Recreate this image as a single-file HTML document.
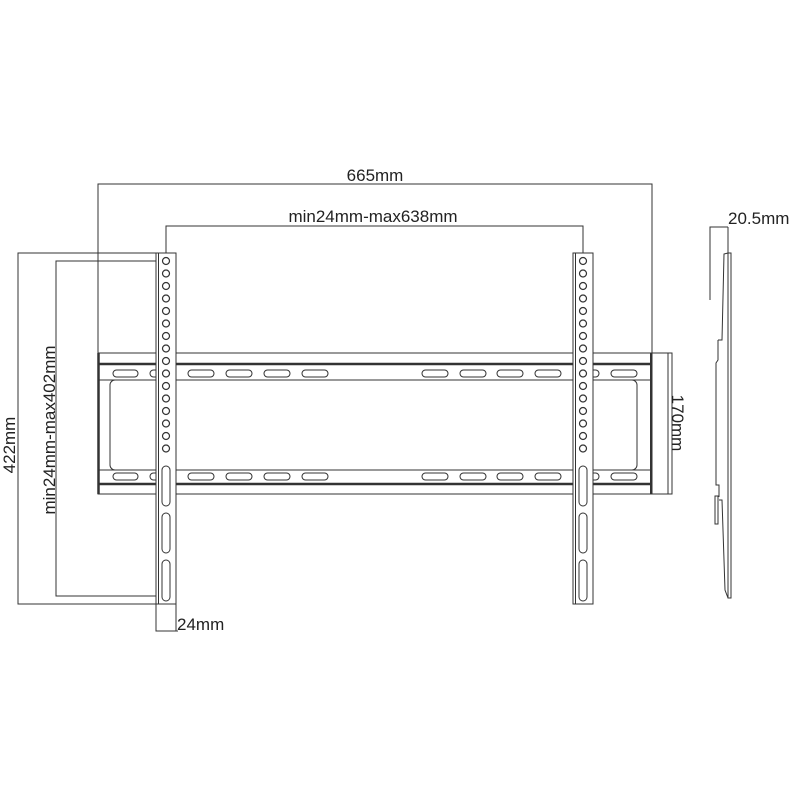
<!DOCTYPE html>
<html><head><style>body{margin:0;background:#fff}svg{display:block}text{font-family:"Liberation Sans",sans-serif;font-size:17px;fill:#222}</style></head><body>
<svg width="800" height="800" viewBox="0 0 800 800" xmlns="http://www.w3.org/2000/svg" fill="none" stroke="#333" stroke-width="1">
<polyline points="98,353 98,184 652,184 652,353"/>
<polyline points="166,257 166,226 583,226 583,257"/>
<polyline points="166,253 18,253 18,604 176,604"/>
<polyline points="166,261 56,261 56,596 166,596"/>
<polyline points="156,604 156,631 178,631"/>
<line x1="176" y1="604" x2="176" y2="631"/>
<polyline points="652,353 672,353 672,494 652,494"/>
<line x1="668" y1="353" x2="668" y2="494"/>
<text x="375" y="181" text-anchor="middle" stroke="none">665mm</text>
<text x="373" y="222" text-anchor="middle" stroke="none">min24mm-max638mm</text>
<text x="177" y="630" stroke="none">24mm</text>
<text transform="translate(15,445) rotate(-90)" text-anchor="middle" stroke="none">422mm</text>
<text transform="translate(55,430) rotate(-90)" text-anchor="middle" stroke="none">min24mm-max402mm</text>
<text transform="translate(672,423) rotate(90)" text-anchor="middle" stroke="none">170mm</text>
<rect x="98" y="353" width="554" height="141"/>
<line x1="98" y1="364" x2="652" y2="364" stroke-width="2.5"/>
<line x1="98" y1="484" x2="652" y2="484" stroke-width="2.5"/>
<line x1="98.5" y1="353" x2="98.5" y2="494" stroke-width="2.5"/>
<line x1="651" y1="353" x2="651" y2="494" stroke-width="2"/>
<line x1="98" y1="380" x2="652" y2="380"/>
<line x1="98" y1="470" x2="652" y2="470"/>
<rect x="110" y="380" width="527" height="90" rx="5" fill="#fff"/>
<g id="slots">
<rect x="113" y="370" width="25" height="7" rx="3.5"/>
<rect x="150" y="370" width="20" height="7" rx="3.5"/>
<rect x="188" y="370" width="26" height="7" rx="3.5"/>
<rect x="226" y="370" width="26" height="7" rx="3.5"/>
<rect x="264" y="370" width="26" height="7" rx="3.5"/>
<rect x="302" y="370" width="26" height="7" rx="3.5"/>
<rect x="422" y="370" width="26" height="7" rx="3.5"/>
<rect x="460" y="370" width="26" height="7" rx="3.5"/>
<rect x="497" y="370" width="26" height="7" rx="3.5"/>
<rect x="535" y="370" width="26" height="7" rx="3.5"/>
<rect x="573" y="370" width="26" height="7" rx="3.5"/>
<rect x="611" y="370" width="26" height="7" rx="3.5"/>
</g>
<use href="#slots" y="103"/>
<g id="rail">
<rect x="156" y="253" width="20" height="351" fill="#fff"/>
<line x1="158.5" y1="253" x2="158.5" y2="604"/>
<g stroke-width="1.2">
<circle cx="166" cy="261" r="3.5"/><circle cx="166" cy="273.5" r="3.5"/><circle cx="166" cy="286" r="3.5"/><circle cx="166" cy="298.5" r="3.5"/>
<circle cx="166" cy="311" r="3.5"/><circle cx="166" cy="323.5" r="3.5"/><circle cx="166" cy="336" r="3.5"/><circle cx="166" cy="348.5" r="3.5"/>
<circle cx="166" cy="361" r="3.5"/><circle cx="166" cy="373.5" r="3.5"/><circle cx="166" cy="386" r="3.5"/><circle cx="166" cy="398.5" r="3.5"/>
<circle cx="166" cy="411" r="3.5"/><circle cx="166" cy="423.5" r="3.5"/><circle cx="166" cy="436" r="3.5"/><circle cx="166" cy="448.5" r="3.5"/>
</g>
<rect x="162" y="466" width="8" height="40" rx="4"/>
<rect x="162" y="513" width="8" height="40" rx="4"/>
<rect x="162" y="560" width="8" height="41" rx="4"/>
</g>
<use href="#rail" x="417"/>
<polyline points="710,300 710,227 728,227"/>
<line x1="728" y1="227" x2="728" y2="253"/>
<text x="728" y="224" stroke="none">20.5mm</text>
<polygon points="728,253 731,253 731,598 728,598"/>
<polyline points="728,253 724,254 722,340 718,340"/>
<polyline points="718,340 718,360 716,363 716,485 719,485 719,497"/>
<rect x="715" y="496" width="3" height="28"/>
<polyline points="719,500 722,500 725,590 728,598"/>
</svg>
</body></html>
